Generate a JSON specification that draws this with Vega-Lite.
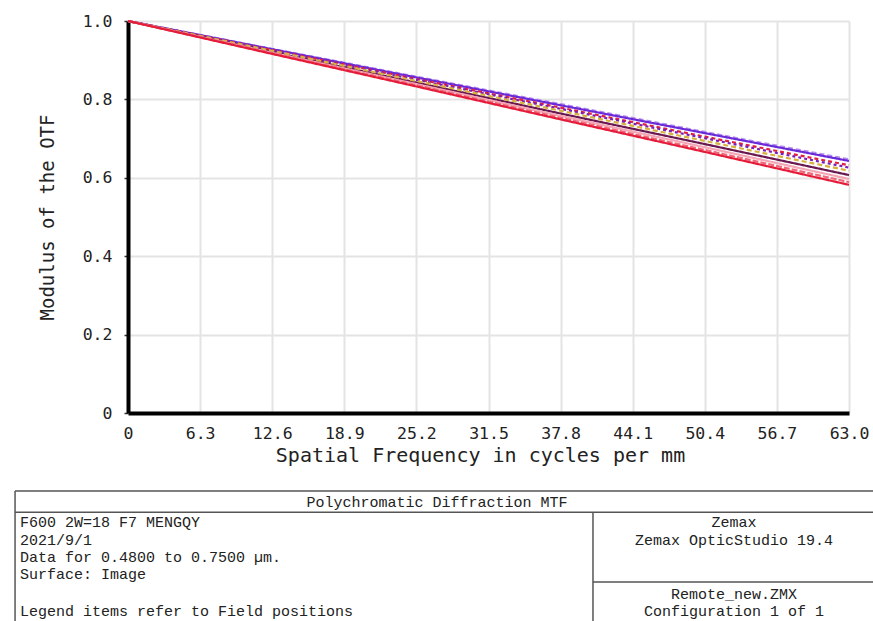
{
  "$schema": "https://vega.github.io/schema/vega-lite/v6.json",
  "width": 721,
  "height": 392,
  "autosize": {"type": "none"},
  "padding": {"left": 128, "top": 21, "right": 24, "bottom": 208},
  "background": "white",
  "config": {"view": {"stroke": null}, "font": "DejaVu Sans Mono"},
  "layer": [
    {
      "data": {"values": [
        {"f": 0, "m": 1, "s": "B"}, {"f": 12.6, "m": 0.929, "s": "B"}, {"f": 25.2, "m": 0.858, "s": "B"}, {"f": 37.8, "m": 0.788, "s": "B"}, {"f": 50.4, "m": 0.717, "s": "B"}, {"f": 63, "m": 0.647, "s": "B"},
        {"f": 0, "m": 1, "s": "A"}, {"f": 12.6, "m": 0.928, "s": "A"}, {"f": 25.2, "m": 0.856, "s": "A"}, {"f": 37.8, "m": 0.785, "s": "A"}, {"f": 50.4, "m": 0.714, "s": "A"}, {"f": 63, "m": 0.643, "s": "A"},
        {"f": 0, "m": 1, "s": "C"}, {"f": 12.6, "m": 0.926, "s": "C"}, {"f": 25.2, "m": 0.852, "s": "C"}, {"f": 37.8, "m": 0.779, "s": "C"}, {"f": 50.4, "m": 0.705, "s": "C"}, {"f": 63, "m": 0.632, "s": "C"},
        {"f": 0, "m": 1, "s": "D"}, {"f": 12.6, "m": 0.925, "s": "D"}, {"f": 25.2, "m": 0.85, "s": "D"}, {"f": 37.8, "m": 0.776, "s": "D"}, {"f": 50.4, "m": 0.701, "s": "D"}, {"f": 63, "m": 0.626, "s": "D"},
        {"f": 0, "m": 1, "s": "F"}, {"f": 12.6, "m": 0.921, "s": "F"}, {"f": 25.2, "m": 0.843, "s": "F"}, {"f": 37.8, "m": 0.764, "s": "F"}, {"f": 50.4, "m": 0.686, "s": "F"}, {"f": 63, "m": 0.607, "s": "F"},
        {"f": 0, "m": 1, "s": "E"}, {"f": 12.6, "m": 0.924, "s": "E"}, {"f": 25.2, "m": 0.847, "s": "E"}, {"f": 37.8, "m": 0.771, "s": "E"}, {"f": 50.4, "m": 0.694, "s": "E"}, {"f": 63, "m": 0.618, "s": "E"},
        {"f": 0, "m": 1, "s": "G"}, {"f": 12.6, "m": 0.919, "s": "G"}, {"f": 25.2, "m": 0.839, "s": "G"}, {"f": 37.8, "m": 0.758, "s": "G"}, {"f": 50.4, "m": 0.678, "s": "G"}, {"f": 63, "m": 0.597, "s": "G"},
        {"f": 0, "m": 1, "s": "H"}, {"f": 12.6, "m": 0.918, "s": "H"}, {"f": 25.2, "m": 0.836, "s": "H"}, {"f": 37.8, "m": 0.753, "s": "H"}, {"f": 50.4, "m": 0.671, "s": "H"}, {"f": 63, "m": 0.589, "s": "H"},
        {"f": 0, "m": 1, "s": "I"}, {"f": 12.6, "m": 0.916, "s": "I"}, {"f": 25.2, "m": 0.833, "s": "I"}, {"f": 37.8, "m": 0.749, "s": "I"}, {"f": 50.4, "m": 0.666, "s": "I"}, {"f": 63, "m": 0.582, "s": "I"}
      ]},
      "mark": {"type": "line", "strokeWidth": 2.2},
      "encoding": {
        "x": {
          "field": "f", "type": "quantitative",
          "scale": {"domain": [0, 63], "nice": false, "zero": false},
          "axis": {
            "title": "Spatial Frequency in cycles per mm",
            "values": [0, 6.3, 12.6, 18.9, 25.2, 31.5, 37.8, 44.1, 50.4, 56.7, 63],
            "labelExpr": "datum.value == 0 ? '0' : format(datum.value, '.1f')",
            "labelFont": "DejaVu Sans Mono", "labelFontSize": 16.5, "labelColor": "#222",
            "labelPadding": 12, "labelOverlap": false, "labelFlush": false,
            "tickSize": 0,
            "domainColor": "#000", "domainWidth": 4,
            "grid": true, "gridColor": "#e4e4e4", "gridWidth": 2,
            "titleFont": "DejaVu Sans Mono", "titleFontSize": 20, "titleFontWeight": "normal", "titleColor": "#222",
            "titleX": 352, "titleY": 42, "titleBaseline": "middle", "titleAlign": "center"
          }
        },
        "y": {
          "field": "m", "type": "quantitative",
          "scale": {"domain": [0, 1], "nice": false},
          "axis": {
            "title": "Modulus of the OTF",
            "values": [0, 0.1, 0.2, 0.3, 0.4, 0.5, 0.6, 0.7, 0.8, 0.9, 1],
            "labelExpr": "datum.value == 0 ? '0' : (round(datum.value * 10) % 2 == 0 ? format(datum.value, '.1f') : '')",
            "labelFont": "DejaVu Sans Mono", "labelFontSize": 16.5, "labelColor": "#222",
            "labelPadding": 12, "labelOverlap": false,
            "tickSize": 4, "tickColor": "#333", "tickWidth": 1.5,
            "domainColor": "#000", "domainWidth": 4,
            "grid": true, "gridColor": "#e4e4e4", "gridWidth": 2,
            "titleFont": "DejaVu Sans Mono", "titleFontSize": 19, "titleFontWeight": "normal", "titleColor": "#222",
            "titleX": -81, "titleY": 196, "titleBaseline": "middle", "titleAlign": "center", "titleAngle": -90
          }
        },
        "color": {
          "field": "s", "type": "nominal", "legend": null,
          "scale": {"domain": ["A", "B", "C", "D", "E", "F", "G", "H", "I"],
                    "range": ["#6a2ad8", "#b48cf0", "#e0203c", "#7a1fb8", "#d8b040", "#6a1850", "#f4a6b6", "#f06878", "#e41c3a"]}
        },
        "strokeDash": {
          "field": "s", "type": "nominal", "legend": null,
          "scale": {"domain": ["A", "B", "C", "D", "E", "F", "G", "H", "I"],
                    "range": [[1, 0], [5, 3], [4, 3], [3, 3], [5, 3], [1, 0], [1, 0], [6, 2], [1, 0]]}
        }
      }
    },
    {
      "data": {"values": [
        {"x1": -9.87, "x2": 66, "y1": -0.199, "y2": -0.199},
        {"x1": -9.87, "x2": 66, "y1": -0.253, "y2": -0.253},
        {"x1": -9.87, "x2": -9.87, "y1": -0.199, "y2": -0.62},
        {"x1": 40.63, "x2": 40.63, "y1": -0.253, "y2": -0.62},
        {"x1": 40.63, "x2": 66, "y1": -0.431, "y2": -0.431}
      ]},
      "mark": {"type": "rule", "color": "#555", "strokeWidth": 1.5},
      "encoding": {
        "x": {"field": "x1", "type": "quantitative", "scale": {"domain": [0, 63], "nice": false, "zero": false}},
        "x2": {"field": "x2"},
        "y": {"field": "y1", "type": "quantitative", "scale": {"domain": [0, 1], "nice": false}},
        "y2": {"field": "y2"}
      }
    },
    {
      "data": {"values": [
        {"tx": -9.44, "ty": -0.278, "label": "F600 2W=18 F7 MENGQY"},
        {"tx": -9.44, "ty": -0.324, "label": "2021/9/1"},
        {"tx": -9.44, "ty": -0.367, "label": "Data for 0.4800 to 0.7500 µm."},
        {"tx": -9.44, "ty": -0.411, "label": "Surface: Image"},
        {"tx": -9.44, "ty": -0.505, "label": "Legend items refer to Field positions"}
      ]},
      "mark": {"type": "text", "align": "left", "baseline": "middle", "font": "Liberation Mono", "fontSize": 15, "color": "#222"},
      "encoding": {
        "x": {"field": "tx", "type": "quantitative", "scale": {"domain": [0, 63], "nice": false, "zero": false}},
        "y": {"field": "ty", "type": "quantitative", "scale": {"domain": [0, 1], "nice": false}},
        "text": {"field": "label"}
      }
    },
    {
      "data": {"values": [
        {"tx": 27.0, "ty": -0.227, "label": "Polychromatic Diffraction MTF"},
        {"tx": 52.95, "ty": -0.278, "label": "Zemax"},
        {"tx": 52.95, "ty": -0.324, "label": "Zemax OpticStudio 19.4"},
        {"tx": 52.95, "ty": -0.462, "label": "Remote_new.ZMX"},
        {"tx": 52.95, "ty": -0.505, "label": "Configuration 1 of 1"}
      ]},
      "mark": {"type": "text", "align": "center", "baseline": "middle", "font": "Liberation Mono", "fontSize": 15, "color": "#222"},
      "encoding": {
        "x": {"field": "tx", "type": "quantitative", "scale": {"domain": [0, 63], "nice": false, "zero": false}},
        "y": {"field": "ty", "type": "quantitative", "scale": {"domain": [0, 1], "nice": false}},
        "text": {"field": "label"}
      }
    }
  ]
}
